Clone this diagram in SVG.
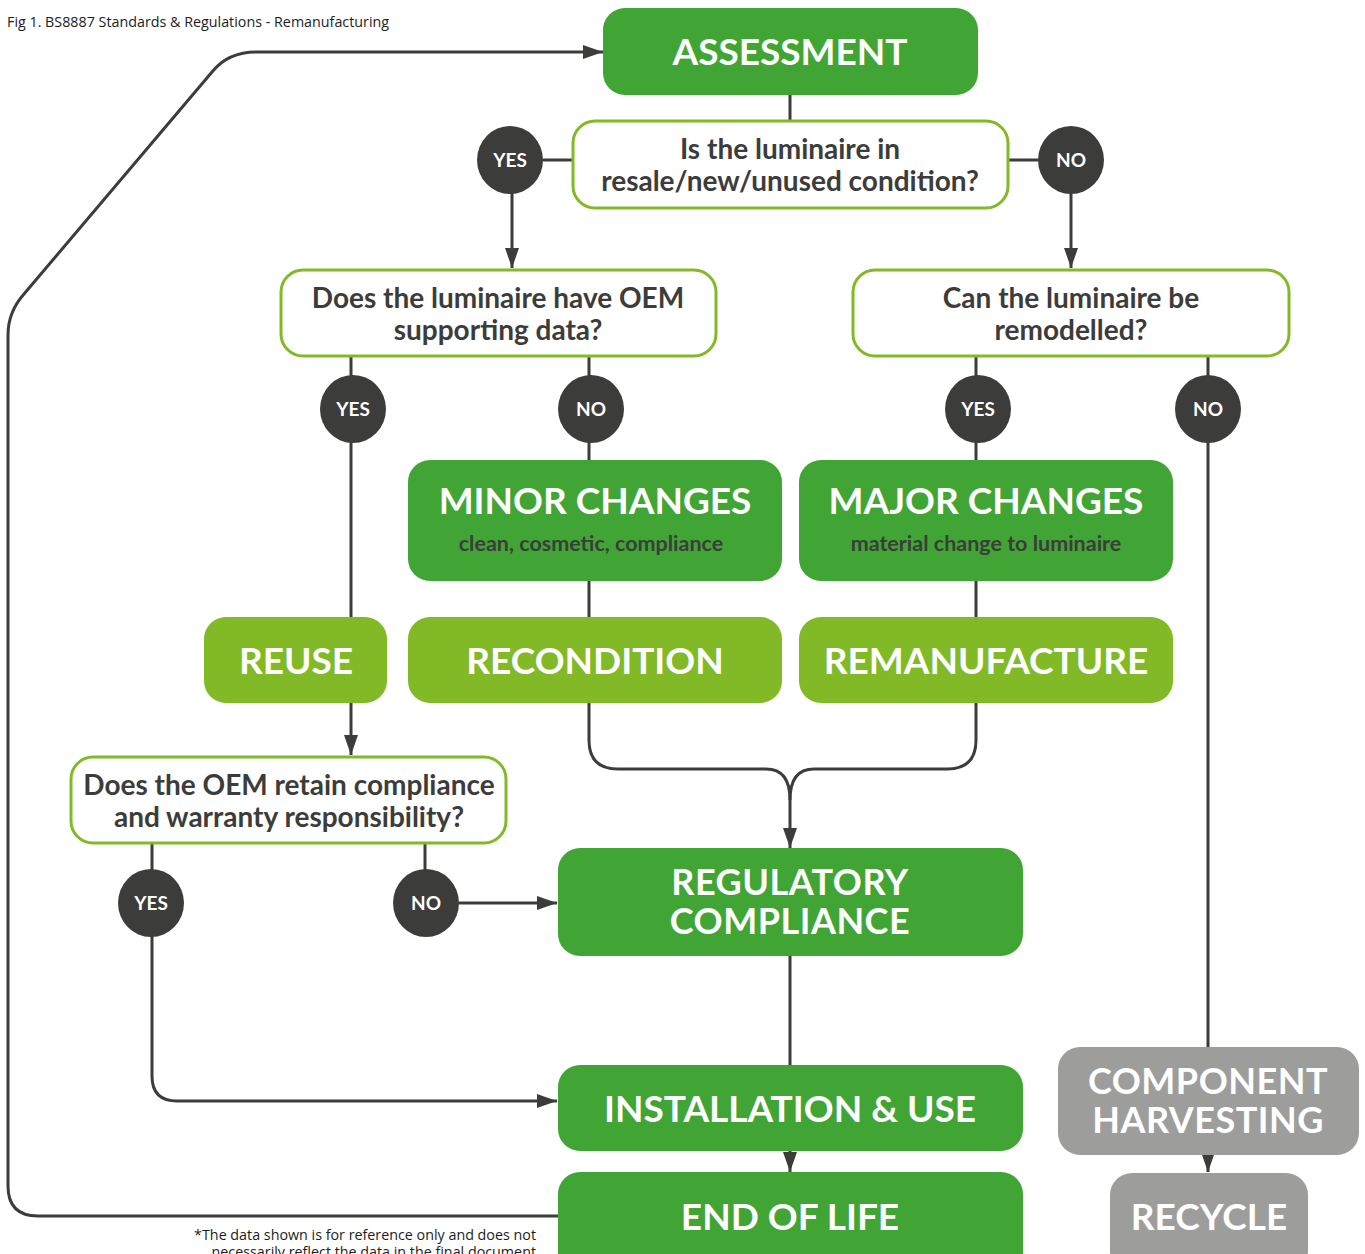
<svg xmlns="http://www.w3.org/2000/svg" width="1365" height="1254" viewBox="0 0 1365 1254">
<defs>
<style>
.dg{fill:#41a535}
.lg{fill:#82b927}
.gr{fill:#9d9d9c}
.q{fill:#fff;stroke:#82b927;stroke-width:3}
.c{fill:#3c3c3b}
.ln{fill:none;stroke:#3c3c3b;stroke-width:3}
.t{font-family:Lato,"Open Sans",sans-serif;font-weight:700;fill:#fff;text-anchor:middle}
.big{font-size:37px}
.two{font-size:36px;letter-spacing:0.5px}
.qt{font-family:Lato,"Open Sans",sans-serif;font-weight:700;fill:#3c3c3b;font-size:28px;text-anchor:middle}
.sub{font-family:Lato,"Open Sans",sans-serif;font-weight:700;fill:#3c3c3b;font-size:21.5px;text-anchor:middle}
.ct{font-family:Lato,"Open Sans",sans-serif;font-weight:700;fill:#fff;font-size:19px;text-anchor:middle}
.sm{font-family:"Open Sans",sans-serif;fill:#1d1d1b;font-size:14.3px}
</style>
<marker id="ah" markerWidth="20" markerHeight="14" refX="20" refY="7" orient="auto" markerUnits="userSpaceOnUse">
<path d="M0,0 L20,7 L0,14 Z" fill="#3c3c3b"/>
</marker>
</defs>
<rect width="1365" height="1254" fill="#fff"/>
<text class="sm" x="7" y="27">Fig 1. BS8887 Standards &amp; Regulations - Remanufacturing</text>

<g id="connectors">
<path class="ln" d="M790,95 V120"/>
<path class="ln" d="M543,160 H572"/>
<path class="ln" d="M1009,160 H1038"/>
<path class="ln" marker-end="url(#ah)" d="M512,193 V268"/>
<path class="ln" marker-end="url(#ah)" d="M1071,193 V268"/>
<path class="ln" d="M351,357 V617"/>
<path class="ln" d="M589,357 V460"/>
<path class="ln" d="M976,357 V460"/>
<path class="ln" d="M1208,357 V1047"/>
<path class="ln" d="M589,581 V617"/>
<path class="ln" d="M976,581 V617"/>
<path class="ln" marker-end="url(#ah)" d="M351,703 V755"/>
<path class="ln" d="M589,703 V740 Q589,769 618,769 H766 Q790,769 790,800"/>
<path class="ln" marker-end="url(#ah)" d="M976,703 V740 Q976,769 947,769 H814 Q790,769 790,800 V848"/>
<path class="ln" d="M152,844 V870"/>
<path class="ln" d="M425,844 V870"/>
<path class="ln" marker-end="url(#ah)" d="M459,903 H557"/>
<path class="ln" d="M790,956 V1065"/>
<path class="ln" marker-end="url(#ah)" d="M152,936 V1076 Q152,1101 177,1101 H557"/>
<path class="ln" marker-end="url(#ah)" d="M790,1151 V1172"/>
<path class="ln" marker-end="url(#ah)" d="M1208,1155 V1172"/>
<path class="ln" marker-end="url(#ah)" d="M558,1216 H38 Q8,1216 8,1186 V335 Q8,312 24,294 L212,72 Q228,52 256,52 H603"/>
</g>

<g id="assessment"><rect class="dg" x="603" y="8" width="375" height="87" rx="22"/><text class="t big" x="790" y="65">ASSESSMENT</text></g>
<g id="q1"><rect class="q" x="573" y="121" width="435" height="87" rx="22"/><text class="qt" x="790" y="159">Is the luminaire in</text><text class="qt" x="790" y="191">resale/new/unused condition?</text></g>
<g id="yes1"><ellipse class="c" cx="510" cy="160" rx="33" ry="34"/><text class="ct" x="510" y="167">YES</text></g>
<g id="no1"><ellipse class="c" cx="1071" cy="160" rx="33" ry="34"/><text class="ct" x="1071" y="167">NO</text></g>
<g id="q2"><rect class="q" x="281" y="270" width="435" height="86" rx="22"/><text class="qt" x="498" y="308">Does the luminaire have OEM</text><text class="qt" x="498" y="340">supporting data?</text></g>
<g id="q3"><rect class="q" x="853" y="270" width="436" height="86" rx="22"/><text class="qt" x="1071" y="308">Can the luminaire be</text><text class="qt" x="1071" y="340">remodelled?</text></g>
<g id="yes2"><ellipse class="c" cx="353" cy="409" rx="33" ry="34"/><text class="ct" x="353" y="416">YES</text></g>
<g id="no2"><ellipse class="c" cx="591" cy="409" rx="33" ry="34"/><text class="ct" x="591" y="416">NO</text></g>
<g id="yes3"><ellipse class="c" cx="978" cy="409" rx="33" ry="34"/><text class="ct" x="978" y="416">YES</text></g>
<g id="no3"><ellipse class="c" cx="1208" cy="409" rx="33" ry="34"/><text class="ct" x="1208" y="416">NO</text></g>
<g id="minor"><rect class="dg" x="408" y="460" width="374" height="121" rx="22"/><text class="t big" x="595" y="514">MINOR CHANGES</text><text class="sub" x="591" y="551">clean, cosmetic, compliance</text></g>
<g id="major"><rect class="dg" x="799" y="460" width="374" height="121" rx="22"/><text class="t big" x="986" y="514">MAJOR CHANGES</text><text class="sub" x="986" y="551">material change to luminaire</text></g>
<g id="reuse"><rect class="lg" x="204" y="617" width="183" height="86" rx="22"/><text class="t big" x="296" y="674">REUSE</text></g>
<g id="recondition"><rect class="lg" x="408" y="617" width="374" height="86" rx="22"/><text class="t big" x="595" y="674">RECONDITION</text></g>
<g id="remanufacture"><rect class="lg" x="799" y="617" width="374" height="86" rx="22"/><text class="t big" x="986" y="674">REMANUFACTURE</text></g>
<g id="q4"><rect class="q" x="71" y="757" width="435" height="86" rx="22"/><text class="qt" x="289" y="795">Does the OEM retain compliance</text><text class="qt" x="289" y="827">and warranty responsibility?</text></g>
<g id="yes4"><ellipse class="c" cx="151" cy="903" rx="33" ry="34"/><text class="ct" x="151" y="910">YES</text></g>
<g id="no4"><ellipse class="c" cx="426" cy="903" rx="33" ry="34"/><text class="ct" x="426" y="910">NO</text></g>
<g id="regulatory"><rect class="dg" x="558" y="848" width="465" height="108" rx="22"/><text class="t two" x="790" y="895">REGULATORY</text><text class="t two" x="790" y="934">COMPLIANCE</text></g>
<g id="installation"><rect class="dg" x="558" y="1065" width="465" height="86" rx="22"/><text class="t big" x="790" y="1122">INSTALLATION &amp; USE</text></g>
<g id="endoflife"><rect class="dg" x="558" y="1172" width="465" height="110" rx="22"/><text class="t big" x="790" y="1230">END OF LIFE</text></g>
<g id="harvesting"><rect class="gr" x="1058" y="1047" width="301" height="108" rx="22"/><text class="t two" x="1208" y="1094">COMPONENT</text><text class="t two" x="1208" y="1133">HARVESTING</text></g>
<g id="recycle"><rect class="gr" x="1110" y="1173" width="198" height="100" rx="22"/><text class="t big" x="1209" y="1230">RECYCLE</text></g>

<text class="sm" x="536" y="1240" text-anchor="end">*The data shown is for reference only and does not</text>
<text class="sm" x="536" y="1257" text-anchor="end">necessarily reflect the data in the final document</text>
</svg>
